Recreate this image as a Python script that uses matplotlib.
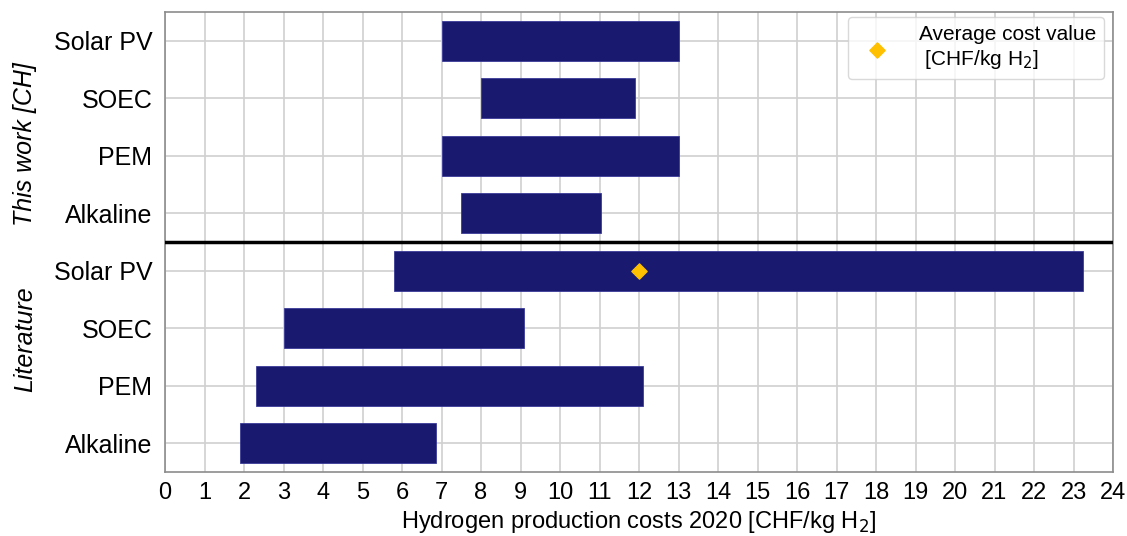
import matplotlib
matplotlib.use("Agg")
import matplotlib.pyplot as plt

plt.rcParams['font.family'] = ['Liberation Sans', 'DejaVu Sans']

labels = ["Solar PV", "SOEC", "PEM", "Alkaline", "Solar PV", "SOEC", "PEM", "Alkaline"]
groups = ["This work [CH]"] * 4 + ["Literature"] * 4
low = [7.0, 8.0, 7.0, 7.5, 5.8, 3.0, 2.3, 1.9]
high = [13.0, 11.9, 13.0, 11.05, 23.25, 9.1, 12.1, 6.85]
avg_label = "Solar PV"
avg_group = "Literature"
avg_value = 12.0

fig = plt.figure(figsize=(11.27, 5.36), dpi=100)
ax = fig.add_axes([165/1127, 1 - 472/536, (1113-165)/1127, (472-12)/536])

n = len(labels)
ypos = [n - 1 - i for i in range(n)]
widths = [h - l for l, h in zip(low, high)]
ax.barh(ypos, widths, left=low, height=0.7, color='#191970', edgecolor='#3a3a9a', linewidth=0.6, zorder=3)

idx = [i for i in range(n) if labels[i] == avg_label and groups[i] == avg_group][0]
ax.scatter([avg_value], [ypos[idx]], marker='D', s=60, color='#FFC000', zorder=5,
           label="Average cost value\n [CHF/kg H$_2$]")

ax.axhline(3.5, color='black', lw=2.5, zorder=4)

ax.set_xlim(0, 24)
ax.set_ylim(-0.5, n - 0.5)
ax.set_xticks(range(0, 25))
ax.set_yticks(ypos)
ax.set_yticklabels(labels)
ax.tick_params(axis='y', labelsize=18, length=0, pad=9)
ax.tick_params(axis='x', labelsize=17, length=0, pad=7)
ax.grid(True, color='#d0d0d0', lw=1.2, zorder=0)
ax.set_axisbelow(True)
for s in ax.spines.values():
    s.set_color('#8c8c8c')
    s.set_linewidth(1.2)

ax.set_xlabel("Hydrogen production costs 2020 [CHF/kg H$_2$]", fontsize=17, labelpad=4)

fig.text(25/1127, 1 - 144/536, "This work [CH]", rotation=90, style='italic', fontsize=18,
         ha='center', va='center')
fig.text(25/1127, 1 - 339/536, "Literature", rotation=90, style='italic', fontsize=18,
         ha='center', va='center')

leg = ax.legend(loc='upper right', fontsize=15, frameon=True, borderpad=0.4,
                handletextpad=1.0, bbox_to_anchor=(1.002, 1.012), labelspacing=0.2)
leg.get_frame().set_edgecolor('#d0d0d0')

fig.savefig("out.png", dpi=100)
